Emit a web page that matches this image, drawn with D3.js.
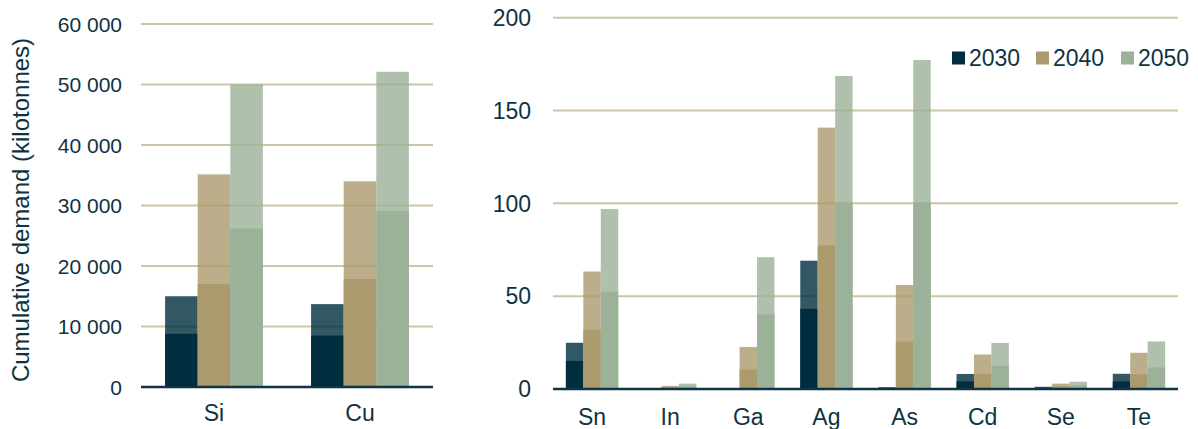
<!DOCTYPE html>
<html lang="en">
<head>
<meta charset="UTF-8" />
<title>Cumulative demand</title>
<script src="https://d3js.org/d3.v7.min.js"></script>
<style>
  body { margin: 0; background: #fff; }
  svg { display: block; font-family: 'Liberation Sans', Arial, sans-serif; }
  .grid line { stroke: #cfc4a4; stroke-width: 2px; }
  .base { stroke: #0f3445; stroke-width: 2.5px; }
  text { fill: #0e3344; }
</style>
</head>
<body>
<div id="chart"></div>
<script>
// categories
const bigCats = ["Si", "Cu"];
const smallCats = ["Sn", "In", "Ga", "Ag", "As", "Cd", "Se", "Te"];
const years = ["2030", "2040", "2050"];
const yearColors = ["#002e3f", "#ab9a6e", "#9bb298"];

// Si, Cu (kilotonnes): low and high estimate per year
const bigLow2030 = [8800, 8500];
const bigHigh2030 = [15000, 13700];
const bigLow2040 = [17000, 17850];
const bigHigh2040 = [35150, 34000];
const bigLow2050 = [26200, 29100];
const bigHigh2050 = [50000, 52100];

// other metals (kilotonnes)
const smallLow2030 = [15.1, 0.3, 0.3, 43.2, 0.5, 4.1, 0.6, 4.1];
const smallHigh2030 = [24.9, 0.5, 0.5, 69.1, 1.0, 8.1, 1.2, 8.2];
const smallLow2040 = [31.9, 0.9, 10.4, 77.3, 25.5, 8.1, 1.5, 7.9];
const smallHigh2040 = [63.3, 1.7, 22.6, 140.8, 56.0, 18.6, 2.9, 19.5];
const smallLow2050 = [52.4, 1.4, 40.2, 100.6, 100.4, 12.5, 2.0, 11.6];
const smallHigh2050 = [96.9, 2.9, 71.0, 168.6, 177.2, 24.8, 3.9, 25.6];

const bigTicks = [0, 10000, 20000, 30000, 40000, 50000, 60000];
const smallTicks = [0, 50, 100, 150, 200];

const width = 1198, height = 429;
const svg = d3.select("#chart").append("svg")
  .attr("width", width).attr("height", height);

const spaceFmt = d3.formatLocale({ decimal: ",", thousands: " ", grouping: [3], currency: ["", ""] }).format(",");

function panel(opts) {
  const { cats, low, high, ticks, xRange, yRange, domainMax, tickX, tickSize, labelY, fmt } = opts;
  const x = d3.scaleBand().domain(cats).range(xRange).paddingInner(0.33).paddingOuter(0.165);
  const x1 = d3.scaleBand().domain(years).range([0, x.bandwidth()]);
  const y = d3.scaleLinear().domain([0, domainMax]).range(yRange);

  const g = svg.append("g");

  g.append("g").attr("class", "grid")
    .selectAll("line").data(ticks.filter(t => t > 0)).join("line")
    .attr("x1", xRange[0]).attr("x2", xRange[1])
    .attr("y1", d => y(d)).attr("y2", d => y(d));

  g.append("g").selectAll("text").data(ticks).join("text")
    .attr("x", tickX).attr("y", d => y(d)).attr("dy", "0.36em")
    .attr("text-anchor", "end").style("font-size", tickSize + "px")
    .text(fmt);

  years.forEach((yr, k) => {
    const grp = g.append("g");
    grp.selectAll("rect.hi").data(cats).join("rect").attr("class", "hi")
      .attr("x", d => x(d) + x1(yr)).attr("width", x1.bandwidth())
      .attr("y", (d, i) => y(high[k][i]))
      .attr("height", (d, i) => y(0) - y(high[k][i]))
      .attr("fill", yearColors[k]).attr("fill-opacity", 0.8);
    grp.selectAll("rect.lo").data(cats).join("rect").attr("class", "lo")
      .attr("x", d => x(d) + x1(yr)).attr("width", x1.bandwidth())
      .attr("y", (d, i) => y(low[k][i]))
      .attr("height", (d, i) => y(0) - y(low[k][i]))
      .attr("fill", yearColors[k]);
  });

  g.append("line").attr("class", "base")
    .attr("x1", xRange[0]).attr("x2", xRange[1])
    .attr("y1", y(0)).attr("y2", y(0));

  g.append("g").selectAll("text").data(cats).join("text")
    .attr("x", d => x(d) + x.bandwidth() / 2).attr("y", labelY)
    .attr("text-anchor", "middle").style("font-size", "23px")
    .text(d => d);
}

panel({
  cats: bigCats,
  low: [bigLow2030, bigLow2040, bigLow2050],
  high: [bigHigh2030, bigHigh2040, bigHigh2050],
  ticks: bigTicks, domainMax: 60000,
  xRange: [141, 433], yRange: [387, 24],
  tickX: 122, tickSize: 21, labelY: 421, fmt: spaceFmt
});

panel({
  cats: smallCats,
  low: [smallLow2030, smallLow2040, smallLow2050],
  high: [smallHigh2030, smallHigh2040, smallHigh2050],
  ticks: smallTicks, domainMax: 200,
  xRange: [553, 1178], yRange: [389, 17.7],
  tickX: 531, tickSize: 23, labelY: 424.5, fmt: d3.format("d")
});

// y-axis title
svg.append("text")
  .attr("transform", "translate(29,210) rotate(-90)")
  .attr("text-anchor", "middle").style("font-size", "24px")
  .text("Cumulative demand (kilotonnes)");

// legend
const legendX = [952, 1036, 1121];
const legend = svg.append("g").selectAll("g").data(years).join("g")
  .attr("transform", (d, i) => `translate(${legendX[i]},0)`);
legend.append("rect").attr("y", 51.5).attr("width", 13).attr("height", 13)
  .attr("fill", (d, i) => yearColors[i]);
legend.append("text").attr("x", 17).attr("y", 65.5)
  .style("font-size", "23px").text(d => d);
</script>
</body>
</html>
